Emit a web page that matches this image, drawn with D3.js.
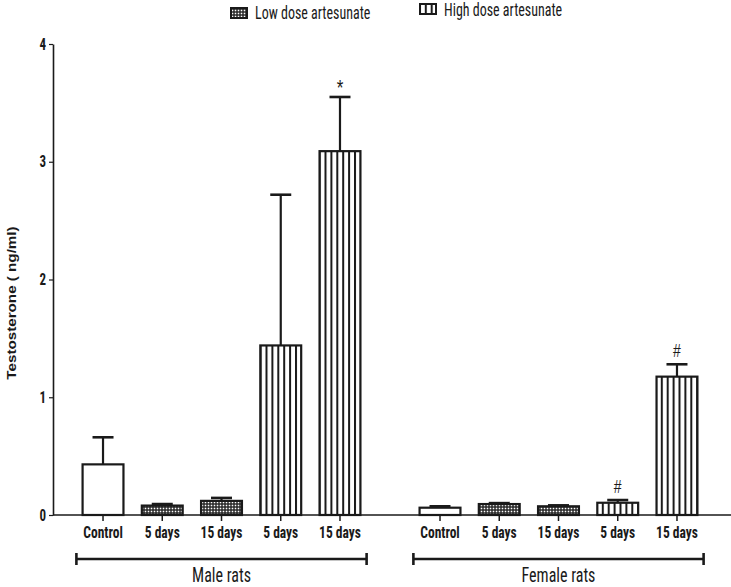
<!DOCTYPE html>
<html>
    <head>
        <title>Testosterone bars</title>
        <script src="https://d3js.org/d3.v7.min.js"></script>
        <style>
            body { margin: 0; background: #fff; }
            .narrow { font-family: "Liberation Sans Narrow", "Arial Narrow", "Roboto Condensed", sans-serif; }
        </style>
    </head>
    <body>
        <div class="chart"></div>
        <script>
            // data
            let groups = ["Male rats", "Female rats"];
            let categories = ["Control", "5 days", "15 days", "5 days ", "15 days "];
            let treatments = ["control", "low", "low", "high", "high"];
            let maleMeans = [0.43, 0.08, 0.12, 1.44, 3.09];
            let maleErrors = [0.23, 0.013, 0.025, 1.28, 0.46];
            let femaleMeans = [0.062, 0.093, 0.074, 0.104, 1.175];
            let femaleErrors = [0.012, 0.008, 0.008, 0.023, 0.105];
            let maleMarks = ["", "", "", "", "*"];
            let femaleMarks = ["", "", "", "#", "#"];
            let yTicks = [0, 1, 2, 3, 4];
            let legendLabels = ["Low dose artesunate", "High dose artesunate"];

            let width = 731;
            let height = 587;
            let marginLeft = 53;
            let marginTop = 44;
            let axisY = 515;
            let ink = "#1a1a1a";
            let stretch = "scale(1,1.25)";

            let svg = d3.select(".chart")
                .append("svg")
                .attr("width", width)
                .attr("height", height);

            let defs = svg.append("defs");
            let low = defs.append("pattern")
                .attr("id", "low")
                .attr("patternUnits", "userSpaceOnUse")
                .attr("width", 3)
                .attr("height", 3);
            low.append("rect").attr("width", 3).attr("height", 3).style("fill", "#222");
            low.append("rect").attr("x", 0.7).attr("y", 0.7).attr("width", 1.6).attr("height", 1.6).style("fill", "#fff");

            let high = defs.append("pattern")
                .attr("id", "high")
                .attr("patternUnits", "userSpaceOnUse")
                .attr("width", 5.9)
                .attr("height", 10);
            high.append("rect").attr("width", 5.9).attr("height", 10).style("fill", "#fff");
            high.append("rect").attr("x", 0).attr("width", 2).attr("height", 10).style("fill", ink);

            let fills = { control: "#fff", low: "url(#low)", high: "url(#high)" };

            let y = d3.scaleLinear()
                .domain([0, 4])
                .range([axisY, marginTop]);

            let gx = d3.scaleBand()
                .domain(groups)
                .range([73.4, 706.6])
                .paddingInner(0.121)
                .paddingOuter(0);

            let x = d3.scaleBand()
                .domain(categories)
                .range([0, gx.bandwidth()])
                .paddingInner(0.31)
                .paddingOuter(0.155);

            let rows = [];
            groups.forEach(function (g, gi) {
                let means = gi == 0 ? maleMeans : femaleMeans;
                let errs = gi == 0 ? maleErrors : femaleErrors;
                let marks = gi == 0 ? maleMarks : femaleMarks;
                categories.forEach(function (c, i) {
                    rows.push({ group: g, cat: c, kind: treatments[i], mean: means[i], err: errs[i], mark: marks[i] });
                });
            });

            function bx(d) { return gx(d.group) + x(d.cat); }

            // y axis
            let yAxis = svg.append("g")
                .attr("transform", "translate(" + marginLeft + ",0)")
                .call(d3.axisLeft(y).tickValues(yTicks).tickSize(4).tickSizeOuter(0).tickPadding(3).tickFormat(d3.format("d")));
            yAxis.select(".domain").attr("stroke", ink).attr("stroke-width", 1.6);
            yAxis.selectAll(".tick line").attr("stroke", ink).attr("stroke-width", 1.2);
            yAxis.selectAll(".tick text")
                .attr("class", "narrow")
                .attr("transform", stretch)
                .style("font-size", "13px")
                .style("font-weight", "bold")
                .style("fill", ink);

            svg.append("text")
                .attr("transform", "translate(16,303) rotate(-90) scale(1.17,1)")
                .style("font-family", "'Liberation Sans', Arial, sans-serif")
                .style("font-size", "13px")
                .style("font-weight", "bold")
                .style("text-anchor", "middle")
                .style("fill", ink)
                .text("Testosterone ( ng/ml)");

            // bars
            svg.selectAll("rect.bar")
                .data(rows)
                .enter()
                .append("rect")
                .attr("class", "bar")
                .attr("x", bx)
                .attr("y", function (d) { return y(d.mean); })
                .attr("width", x.bandwidth())
                .attr("height", function (d) { return axisY - y(d.mean); })
                .style("fill", function (d) { return fills[d.kind]; })
                .style("stroke", ink)
                .style("stroke-width", 2.2);

            // upper error bars
            let eb = svg.selectAll("g.err")
                .data(rows)
                .enter()
                .append("g")
                .attr("class", "err")
                .attr("transform", function (d) { return "translate(" + (bx(d) + x.bandwidth() / 2) + ",0)"; });
            eb.append("line")
                .attr("y1", function (d) { return y(d.mean); })
                .attr("y2", function (d) { return y(d.mean + d.err); })
                .style("stroke", ink)
                .style("stroke-width", 2.2);
            eb.append("line")
                .attr("x1", -10.5)
                .attr("x2", 10.5)
                .attr("y1", function (d) { return y(d.mean + d.err); })
                .attr("y2", function (d) { return y(d.mean + d.err); })
                .style("stroke", ink)
                .style("stroke-width", 2.6);
            eb.append("text")
                .attr("transform", function (d) {
                    let off = d.mark == "*" ? 2 : 7;
                    return "translate(0," + (y(d.mean + d.err) - off) + ") " + stretch;
                })
                .style("font-family", "'Liberation Sans', Arial, sans-serif")
                .style("font-size", function (d) { return d.mark == "*" ? "17px" : "14px"; })
                .style("text-anchor", "middle")
                .style("fill", ink)
                .text(function (d) { return d.mark; });

            // x axis line
            svg.append("line")
                .attr("x1", marginLeft)
                .attr("x2", width)
                .attr("y1", axisY)
                .attr("y2", axisY)
                .style("stroke", ink)
                .style("stroke-width", 1.6);

            groups.forEach(function (g) {
                let ax = svg.append("g")
                    .attr("transform", "translate(" + gx(g) + "," + axisY + ")")
                    .call(d3.axisBottom(x).tickSize(6).tickPadding(3));
                ax.select(".domain").remove();
                ax.selectAll(".tick line").attr("stroke", ink).attr("stroke-width", 1.5);
                ax.selectAll(".tick text")
                    .attr("class", "narrow")
                    .attr("transform", stretch)
                    .style("font-size", "13.5px")
                    .style("font-weight", "bold")
                    .style("fill", ink);

                let x0 = gx(g) + 3;
                let x1 = gx(g) + gx.bandwidth() - 3;
                let br = svg.append("g").style("stroke", ink).style("stroke-width", 2.6);
                br.append("line").attr("x1", x0).attr("x2", x1).attr("y1", 559).attr("y2", 559);
                br.append("line").attr("x1", x0).attr("x2", x0).attr("y1", 553).attr("y2", 565);
                br.append("line").attr("x1", x1).attr("x2", x1).attr("y1", 553).attr("y2", 565);

                svg.append("text")
                    .attr("class", "narrow")
                    .attr("transform", "translate(" + (gx(g) + gx.bandwidth() / 2) + ",582) " + stretch)
                    .style("font-size", "16px")
                    .style("text-anchor", "middle")
                    .style("fill", ink)
                    .text(g);
            });

            // legend
            let legendPos = [[231, 8, 19], [420, 4, 16]];
            let legendFills = ["url(#low)", "url(#high)"];
            legendLabels.forEach(function (t, i) {
                let p = legendPos[i];
                svg.append("rect")
                    .attr("x", p[0])
                    .attr("y", p[1])
                    .attr("width", 16)
                    .attr("height", 10)
                    .style("fill", legendFills[i])
                    .style("stroke", ink)
                    .style("stroke-width", 2);
                svg.append("text")
                    .attr("class", "narrow")
                    .attr("transform", "translate(" + (p[0] + 24) + "," + p[2] + ") " + stretch)
                    .style("font-size", "14px")
                    .style("fill", ink)
                    .text(t);
            });
        </script>
    </body>
</html>
